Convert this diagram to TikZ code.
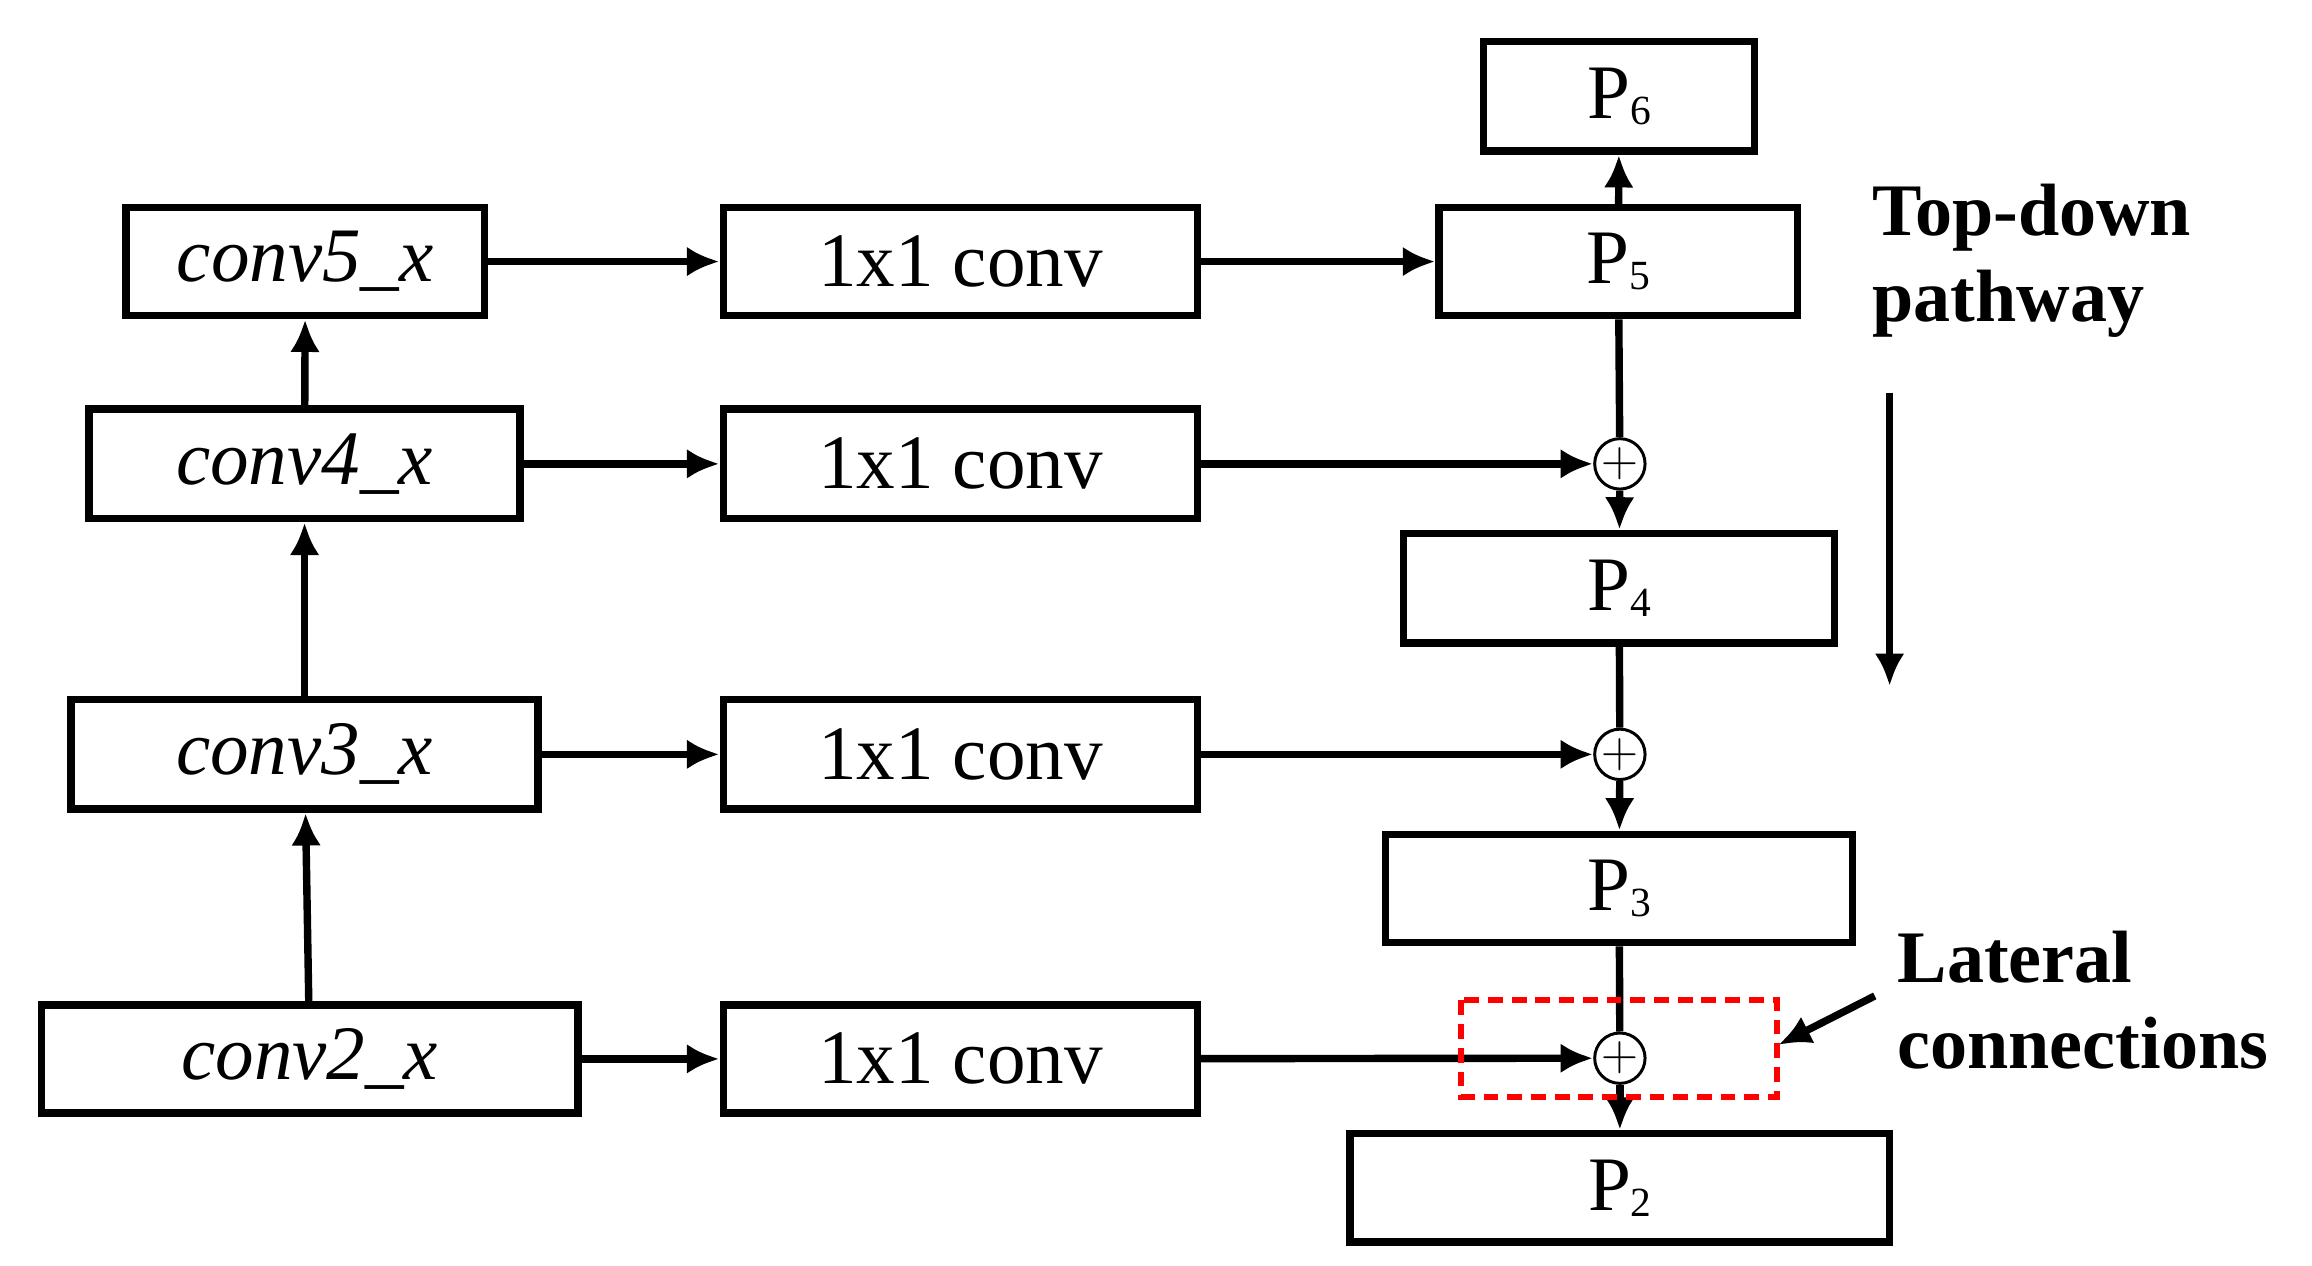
\documentclass[tikz,border=0pt]{standalone}
\usepackage{fontspec}
\setmainfont{Liberation Serif}
\begin{document}
\begin{tikzpicture}[x=0.5pt,y=-0.5pt,
 box/.style={draw,line width=2.5pt,inner sep=0pt,font=\fontsize{26}{26}\selectfont},
 pl/.style={draw,circle,line width=1pt,minimum size=17pt,inner sep=0pt,font=\fontsize{16}{16}\selectfont},
 arr/.style={line width=2.5pt,-{Latex[length=11pt,width=10pt]}},
 lab/.style={font=\bfseries\fontsize{25}{29}\selectfont,align=left,anchor=north west,inner sep=0pt}]
\usetikzlibrary{arrows.meta}
\useasboundingbox (0,0) rectangle (1560,854);
\newcommand\bx[6]{\node[box,minimum width=#4*0.5pt-#2*0.5pt,minimum height=#5*0.5pt-#3*0.5pt] (#1) at ({(#2+#4)/2},{(#3+#5)/2}) {#6};}
\newcommand\Pn[1]{P{\fontsize{14}{14}\selectfont\raisebox{-2pt}{#1}}}
\bx{c5}{85}{140}{327}{213}{\itshape conv5\_x}
\bx{c4}{60}{276}{351}{350}{\itshape conv4\_x}
\bx{c3}{48}{472}{363}{546}{\itshape conv3\_x}
\bx{c2}{28}{678}{390}{751}{\itshape conv2\_x}
\bx{k5}{488}{140}{808}{213}{1x1 conv}
\bx{k4}{488}{276}{808}{350}{1x1 conv}
\bx{k3}{488}{472}{808}{546}{1x1 conv}
\bx{k2}{488}{678}{808}{751}{1x1 conv}
\bx{p6}{1001}{28}{1184}{102}{\Pn6}
\bx{p5}{971}{140}{1213}{213}{\Pn5}
\bx{p4}{947}{360}{1238}{434}{\Pn4}
\bx{p3}{935}{563}{1250}{636}{\Pn3}
\bx{p2}{911}{765}{1275}{838}{\Pn2}
\node[pl] (s4) at (1093,313) {$+$};
\node[pl] (s3) at (1093,509) {$+$};
\node[pl] (s2) at (1093,714) {$+$};
\draw[arr] (c2) -- (c3);
\draw[arr] (c3) -- (c4);
\draw[arr] (c4) -- (c5);
\draw[arr] (c5) -- (k5);
\draw[arr] (c4) -- (k4);
\draw[arr] (c3) -- (k3);
\draw[arr] (c2) -- (k2);
\draw[arr] (k5) -- (p5);
\draw[arr] (k4) -- (s4);
\draw[arr] (k3) -- (s3);
\draw[arr] (k2) -- (s2);
\draw[arr] (p5) -- (p6);
\draw[line width=2.5pt] (p5) -- (s4);
\draw[arr] (s4) -- (p4);
\draw[line width=2.5pt] (p4) -- (s3);
\draw[arr] (s3) -- (p3);
\draw[line width=2.5pt] (p3) -- (s2);
\draw[arr] (s2) -- (p2);
\draw[red,line width=2pt,dash pattern=on 5pt off 3pt] (986,675) rectangle (1199,740);
\node[lab] (td) at (1263,124) {Top-down\\pathway};
\coordinate (a1) at (1275,265); \coordinate (a2) at (1275,463);
\draw[arr] (a1) -- (a2);
\node[lab] (lc) at (1280,628) {Lateral\\connections};
\coordinate (b1) at (1265,672); \coordinate (b2) at (1200,705);
\draw[arr] (b1) -- (b2);
\end{tikzpicture}
\end{document}
